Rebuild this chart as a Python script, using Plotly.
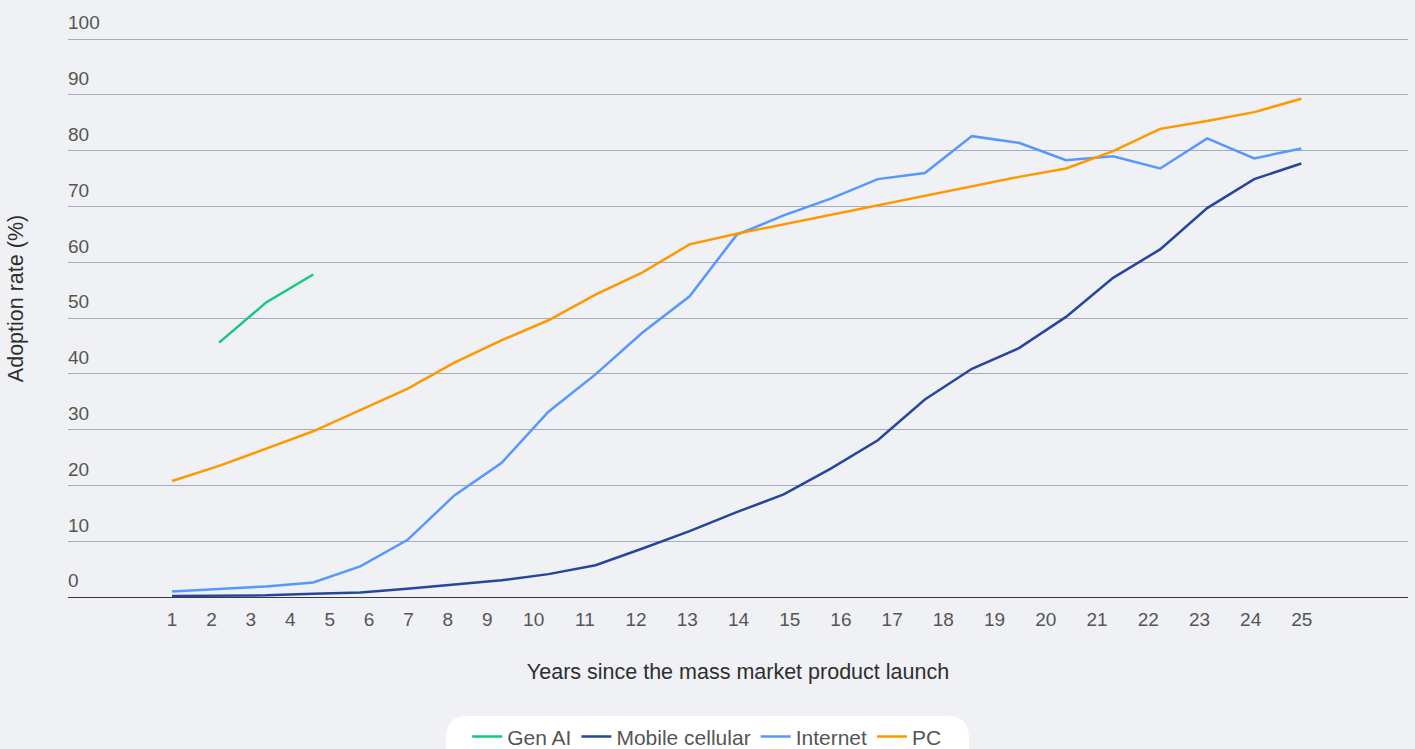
import plotly.graph_objects as go

# ---------------- data ----------------
years = list(range(1, 26))
tick_labels = [str(y) for y in years]

gen_ai_years = [2, 3, 4]
gen_ai = [45.6, 52.8, 57.8]

mobile = [0.2, 0.2, 0.3, 0.6, 0.8, 1.5, 2.2, 3.0, 4.1, 5.7, 8.7, 11.8, 15.2, 18.4,
          23.0, 28.1, 35.4, 40.9, 44.6, 50.2, 57.2, 62.3, 69.7, 74.9, 77.7]
internet = [1.0, 1.5, 1.9, 2.6, 5.5, 10.2, 18.2, 24.0, 33.2, 39.9, 47.4, 53.9, 64.9,
            68.4, 71.4, 74.9, 76.0, 82.6, 81.4, 78.3, 79.0, 76.8, 82.2, 78.6, 80.4]
pc = [20.8, 23.5, 26.6, 29.7, 33.5, 37.3, 42.0, 46.0, 49.6, 54.2, 58.2, 63.2, 65.1,
      66.8, 68.5, 70.2, 71.8, 73.5, 75.3, 76.8, 79.9, 83.9, 85.3, 86.9, 89.3]

y_ticks = [0, 10, 20, 30, 40, 50, 60, 70, 80, 90, 100]

series_names = ["Gen AI", "Mobile cellular", "Internet", "PC"]
colors = ["#16c87c", "#25479b", "#5897fd", "#ff9800"]

# ---------------- layout helpers ----------------
# tick label placement as drawn in the original (narrower spacing for 1-9)
tick_pos = []
for k in years:
    if k <= 9:
        tick_pos.append(1 + (k - 1) * 0.8375)
    else:
        tick_pos.append(8.685 + (k - 10) * 1.0885)

FONT = "Liberation Sans, Arial, Helvetica, sans-serif"

fig = go.Figure()
fig.add_trace(go.Scatter(x=gen_ai_years, y=gen_ai, mode="lines", name=series_names[0],
                         line=dict(color=colors[0], width=2.5)))
fig.add_trace(go.Scatter(x=years, y=mobile, mode="lines", name=series_names[1],
                         line=dict(color=colors[1], width=2.5)))
fig.add_trace(go.Scatter(x=years, y=internet, mode="lines", name=series_names[2],
                         line=dict(color=colors[2], width=2.5)))
fig.add_trace(go.Scatter(x=years, y=pc, mode="lines", name=series_names[3],
                         line=dict(color=colors[3], width=2.5)))

# rounded white legend panel (paper coordinates)
x0, x1, top, bot = 0.2821, 0.6724, -0.1993, -0.2898
rx, ry = 0.0164, 0.0368
panel = (f"M {x0+rx},{top} L {x1-rx},{top} Q {x1},{top} {x1},{top-ry} "
         f"L {x1},{bot+ry} Q {x1},{bot} {x1-rx},{bot} L {x0+rx},{bot} "
         f"Q {x0},{bot} {x0},{bot+ry} L {x0},{top-ry} Q {x0},{top} {x0+rx},{top} Z")

fig.update_layout(
    width=1415, height=749,
    margin=dict(l=68, r=7, t=0, b=152, autoexpand=False),
    paper_bgcolor="#f0f1f5",
    plot_bgcolor="#f0f1f5",
    font=dict(family=FONT, color="#555555", size=19),
    shapes=[dict(type="path", path=panel, xref="paper", yref="paper",
                 fillcolor="#ffffff", line=dict(width=0), layer="below")],
    showlegend=True,
    legend=dict(
        orientation="h",
        x=0.477, xanchor="center",
        y=-0.2, yanchor="top",
        bgcolor="rgba(0,0,0,0)",
        font=dict(size=21, color="#555555"),
        itemwidth=30,
        traceorder="normal",
    ),
    xaxis=dict(
        range=[-1.211, 27.268],
        tickmode="array",
        tickvals=tick_pos,
        ticktext=tick_labels,
        showgrid=False,
        zeroline=False,
        showline=True,
        linecolor="#3a3a3a",
        linewidth=1.2,
        ticks="",
        ticklabelstandoff=5,
        tickfont=dict(size=19, color="#555555"),
        title=dict(text="Years since the mass market product launch",
                   font=dict(size=21.5, color="#2e2e2e"), standoff=35),
        fixedrange=True,
    ),
    yaxis=dict(
        range=[0, 107],
        tickmode="array",
        tickvals=y_ticks,
        ticktext=[str(v) for v in y_ticks],
        showgrid=True,
        gridcolor="#a3acbd",
        gridwidth=1,
        zeroline=False,
        showline=False,
        ticks="",
        ticklabelposition="inside top",
        ticklabelstandoff=-3,
        ticklabelshift=-3,
        tickfont=dict(size=19, color="#555555"),
        title=dict(text="Adoption rate (%)", font=dict(size=21.5, color="#2e2e2e"), standoff=38),
        fixedrange=True,
    ),
)

fig.write_html("out.html")
